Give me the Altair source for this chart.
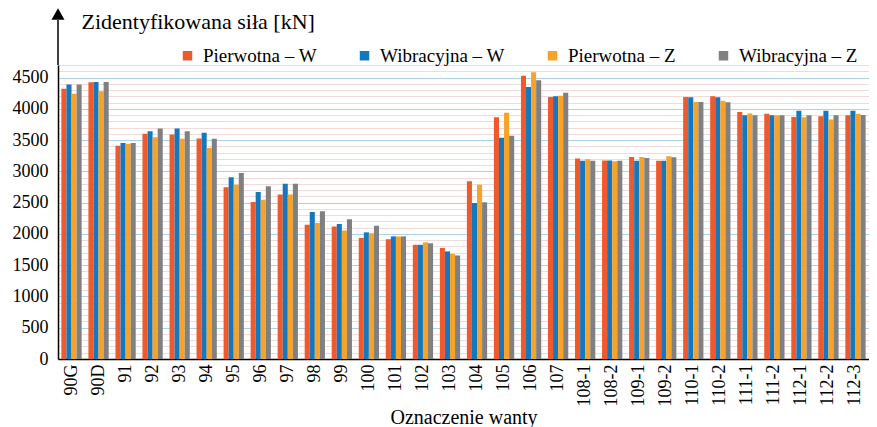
import altair as alt
import pandas as pd

cats = ["90G", "90D", "91", "92", "93", "94", "95", "96", "97", "98", "99", "100",
        "101", "102", "103", "104", "105", "106", "107", "108-1", "108-2", "109-1",
        "109-2", "110-1", "110-2", "111-1", "111-2", "112-1", "112-2", "112-3"]
series = ["Pierwotna – W", "Wibracyjna – W", "Pierwotna – Z", "Wibracyjna – Z"]
pierwotna_w = [4320, 4425, 3410, 3600, 3590, 3525, 2745, 2510, 2630, 2145, 2120, 1935, 1915, 1825, 1775,
               2840, 3865, 4530, 4190, 3205, 3175, 3230, 3170, 4190, 4200, 3950, 3920, 3870, 3880, 3895]
wibracyjna_w = [4390, 4430, 3455, 3640, 3685, 3615, 2905, 2670, 2800, 2350, 2160, 2025, 1960, 1825, 1720,
                2495, 3535, 4350, 4200, 3170, 3175, 3170, 3170, 4185, 4185, 3895, 3895, 3970, 3970, 3970]
pierwotna_z = [4240, 4280, 3440, 3545, 3520, 3375, 2785, 2545, 2630, 2175, 2055, 2010, 1960, 1865, 1680,
               2785, 3935, 4585, 4210, 3195, 3160, 3230, 3240, 4110, 4130, 3925, 3895, 3865, 3830, 3920]
wibracyjna_z = [4390, 4430, 3455, 3685, 3640, 3520, 2975, 2760, 2800, 2360, 2235, 2130, 1960, 1850, 1655,
                2505, 3570, 4455, 4255, 3170, 3170, 3215, 3225, 4110, 4105, 3895, 3895, 3895, 3895, 3900]
colors = ["#EE5A2C", "#1578BF", "#F7A228", "#808080"]
grid_values = list(range(0, 4701, 100))

rows = []
for name, vals in zip(series, [pierwotna_w, wibracyjna_w, pierwotna_z, wibracyjna_z]):
    for c, v in zip(cats, vals):
        rows.append({"wanta": c, "seria": name, "sila": v})
df = pd.DataFrame(rows)

FONT = "Liberation Serif"

bars = alt.Chart(df).mark_bar().encode(
    x=alt.X("wanta:N", sort=cats,
            scale=alt.Scale(paddingInner=0.25, paddingOuter=0.125),
            axis=alt.Axis(title="Oznaczenie wanty", labelAngle=-90, labelFont=FONT,
                          labelFontSize=18, labelColor="black", labelPadding=5,
                          ticks=False, domainColor="black", domainWidth=1.5,
                          titleFont=FONT, titleFontSize=20, titleFontWeight="normal",
                          titleColor="black", titleY=64, titleBaseline="alphabetic")),
    xOffset=alt.XOffset("seria:N", sort=series, scale=alt.Scale(paddingInner=0, paddingOuter=0)),
    y=alt.Y("sila:Q", scale=alt.Scale(domain=[0, 4700], nice=False),
            axis=alt.Axis(title="Zidentyfikowana siła [kN]", values=grid_values, format="d",
                          labelExpr="datum.value % 500 === 0 ? datum.label : ''",
                          labelFont=FONT, labelFontSize=18, labelColor="black", labelPadding=10,
                          ticks=False, domainColor="black", domainWidth=1.5,
                          gridColor={"condition": {"test": "datum.value % 500 === 0", "value": "#a9d3ea"},
                                     "value": "#f0dada"},
                          titleAngle=0, titleAlign="left", titleX=23, titleY=-37,
                          titleBaseline="alphabetic", titleFont=FONT, titleFontSize=22,
                          titleFontWeight="normal", titleColor="black")),
    color=alt.Color("seria:N", sort=series, scale=alt.Scale(domain=series, range=colors),
                    legend=alt.Legend(title=None, orient="none", direction="horizontal",
                                      legendX=120, legendY=-19, symbolType="square",
                                      symbolSize=90, symbolStrokeWidth=0, labelFont=FONT,
                                      labelFontSize=19, labelColor="black", columnPadding=38,
                                      labelOffset=6, labelLimit=300)),
)

marker = pd.DataFrame({"a": [0]})
axis_ext = alt.Chart(marker).mark_rule(color="black", strokeWidth=1.5).encode(
    x=alt.value(0), y=alt.value(0), y2=alt.value(-45))
arrow = alt.Chart(marker).mark_point(shape="triangle-up", filled=True, color="black",
                                     size=170, opacity=1).encode(
    x=alt.value(0), y=alt.value(-51))

chart = alt.layer(bars, axis_ext, arrow).properties(
    width=811, height=294,
    autosize=alt.AutoSizeParams(type="none"),
    padding={"left": 50, "top": 57, "right": 0, "bottom": 68},
    background="white",
).configure_view(stroke=None).configure(font=FONT)

chart.save("out.html", embed_options={"renderer": "svg", "actions": False})
